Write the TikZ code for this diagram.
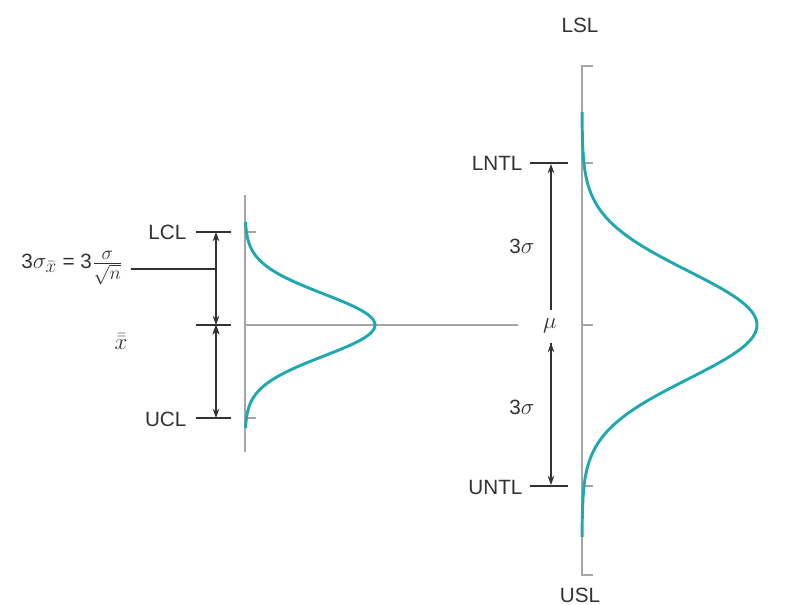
\documentclass[tikz,border=0pt]{standalone}
\usepackage{fontspec}
\setmainfont{Liberation Sans}
\usepackage{amsmath}
\usetikzlibrary{arrows.meta,positioning,calc}
\definecolor{teal}{RGB}{32,168,176}
\definecolor{axgray}{RGB}{165,165,165}
\definecolor{ink}{RGB}{50,50,50}
\newcommand{\msz}{\fontsize{19}{21}\selectfont}

\begin{document}
\begin{tikzpicture}[x=0.75pt,y=-0.75pt,>={Stealth[length=7pt,width=5pt]},
    lbl/.style={text=ink,font=\fontsize{15.5}{18}\selectfont,inner sep=1pt},
    mlbl/.style={lbl,font=\msz},
    axis/.style={draw=axgray,line width=1.6pt},
    limit/.style={draw=ink,line width=1.2pt},
    dim/.style={draw=ink,line width=0.9pt},
    curve/.style={draw=teal,line width=2.2pt}]
    \useasboundingbox (0,0) rectangle (786,605);

    % left (sample means)
    \coordinate (ltop) at (245,195);
    \coordinate (lbot) at (245,452);
    \coordinate (lmid) at (245,325);
    \node[lbl,anchor=east] (lcl) at (188,232) {LCL};
    \node[lbl,anchor=east] (ucl) at (188,419) {UCL};
    \node[mlbl,anchor=center,font=\fontsize{17}{19}\selectfont] (xbb) at (121,342) {$\bar{\bar{x}}$};
    \node[lbl,anchor=east] (form) at (124,268) {3{\msz$\sigma_{\bar{x}}$} = 3{\msz$\frac{\sigma}{\sqrt{n}}$}};
    \coordinate (lcl0) at (196,232); \coordinate (lcl1) at (231,232);
    \coordinate (cl0) at (196,325);  \coordinate (cl1) at (231,325);
    \coordinate (ucl0) at (196,418); \coordinate (ucl1) at (231,418);
    \coordinate (ta) at (216,232); \coordinate (tb) at (216,325); \coordinate (tc) at (216,418);
    \coordinate (lead0) at (131,269); \coordinate (lead1) at (216,269);

    % right (individuals)
    \coordinate (rtop) at (582,66);
    \coordinate (rbot) at (582,575);
    \node[lbl] (lsl) at (580,25) {LSL};
    \node[lbl] (usl) at (580,595) {USL};
    \node[lbl,anchor=east] (lntl) at (524,163) {LNTL};
    \node[lbl,anchor=east] (untl) at (524,487) {UNTL};
    \node[mlbl] (mu) at (550,326) {$\mu$};
    \node[lbl] (s1) at (522,246) {3{\msz$\sigma$}};
    \node[lbl] (s2) at (522,407) {3{\msz$\sigma$}};
    \coordinate (lntl0) at (530,163); \coordinate (lntl1) at (568,163);
    \coordinate (untl0) at (530,486); \coordinate (untl1) at (568,486);
    \coordinate (gend) at (518,325);

    % axes and ticks
    \draw[axis] (ltop) -- (lbot);
    \draw[axis] ($(rtop)+(11,0)$) -- (rtop) -- (rbot) -- ++(11,0);
    \draw[axis,line width=1.1pt] (lmid) -- (gend);
    \foreach \y in {232,418} \draw[axis,line width=1.1pt] (245,\y) -- ++(11,0);
    \foreach \y in {163,325,486} \draw[axis,line width=1.1pt] (582,\y) -- ++(11,0);

    % limit lines
    \path[limit] (lcl0) edge (lcl1) (cl0) edge (cl1) (ucl0) edge (ucl1)
        (lntl0) edge (lntl1) (untl0) edge (untl1);
    \path[dim] (lead0) edge (lead1);
    \path[dim,<->] (ta) edge (tb) (tb) edge (tc);
    \path[dim,->] (551,310) edge (551,164) (551,343) edge (551,485);

    % normal curves
    \draw[curve] plot[domain=-103:103,samples=90,smooth] ({245+130*exp(-((\x/31)^2)/2)},{325+\x});
    \draw[curve] plot[domain=-213:212,samples=120,smooth] ({582+175*exp(-((\x/54)^2)/2)},{325+\x});
\end{tikzpicture}
\end{document}
